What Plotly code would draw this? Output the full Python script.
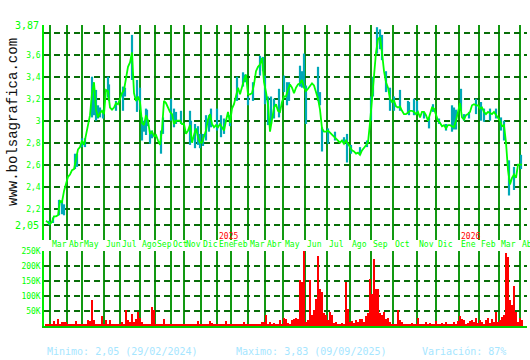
import numpy as np
import plotly.graph_objects as go

# ---------------- data ----------------
month_names = ["Feb", "Mar", "Abr", "May", "Jun", "Jul", "Ago", "Sep", "Oct", "Nov", "Dic",
               "Ene", "Feb", "Mar", "Abr", "May", "Jun", "Jul", "Ago", "Sep", "Oct", "Nov", "Dic",
               "Ene", "Feb", "Mar", "Abr"]
month_years = [2024] * 11 + [2025] * 12 + [2026] * 4
sessions_per_month = [4, 17, 15, 22, 16, 20, 15, 16, 13, 17, 16,
                      14, 17, 17, 18, 22, 22, 23, 21, 22, 24, 19, 23,
                      20, 20, 21, 2]

STEP = 2  # sessions between samples
close = [
    2.09, 2.07, 2.06, 2.08, 2.13, 2.13, 2.14, 2.27, 2.26, 2.36, 2.44, 2.49, 2.51, 2.55, 2.56, 2.66,
    2.74, 2.76, 2.82, 2.78, 2.87, 2.95, 3.05, 3.25, 3.35, 3.10, 3.03, 3.07, 3.09, 3.06, 3.28, 3.27,
    3.12, 3.10, 3.12, 3.16, 3.15, 3.20, 3.25, 3.28, 3.38, 3.49, 3.53, 3.62, 3.25, 3.18, 3.22, 3.17,
    2.98, 2.96, 3.05, 3.00, 2.88, 2.90, 2.86, 2.87, 2.82, 2.78, 2.92, 3.18, 3.16, 3.12,
    3.08, 3.06, 2.97, 3.00, 3.00, 3.00, 2.97, 2.97, 2.88, 2.91, 2.96, 2.80, 2.87, 2.93, 2.85, 2.80,
    2.80, 2.86, 2.91, 3.01, 3.06, 2.97, 2.94, 2.96, 2.94, 2.97, 2.94, 2.91, 3.00, 3.08, 2.98, 3.11,
    3.15, 3.22, 3.30, 3.24, 3.32, 3.37, 3.42, 3.24, 3.24, 3.25, 3.33, 3.45, 3.49, 3.51, 3.57, 3.35,
    3.26, 3.15, 2.90, 3.03, 3.12, 3.15, 3.09, 3.08, 3.17, 3.22, 3.22, 3.28, 3.33, 3.30,
    3.25, 3.30, 3.33, 3.34, 3.37, 3.30, 3.27, 3.29, 3.32, 3.34, 3.32, 3.25, 3.20, 3.10, 2.93, 2.90,
    2.90, 2.91, 2.89, 2.88, 2.85, 2.84, 2.81, 2.80, 2.82, 2.79, 2.82, 2.79, 2.76, 2.73, 2.72, 2.70,
    2.71, 2.69, 2.73, 2.75, 2.77, 2.80, 2.98, 3.20, 3.45, 3.62, 3.74, 3.76, 3.62, 3.45, 3.35, 3.30,
    3.20, 3.17, 3.18, 3.13, 3.12, 3.13, 3.09, 3.06, 3.06, 3.08, 3.09,
    3.09, 3.08, 3.06, 3.08, 3.03, 3.08, 3.08, 3.05, 3.00, 3.07, 3.12, 3.11, 3.06, 3.00, 2.98, 2.95,
    2.96, 2.93, 2.96, 2.96, 2.95, 2.94, 3.00, 3.09, 3.16, 3.03, 3.01, 3.05, 3.06, 3.08, 3.14, 3.15,
    3.14, 3.14, 3.11, 3.12, 3.08, 3.06, 3.08, 3.07, 3.06, 3.08, 3.05, 3.03, 3.00, 2.95, 2.96, 2.80,
    2.55, 2.42, 2.48, 2.51, 2.48, 2.60, 2.60, 2.60,
]

volume_k = [
    5, 6, 5, 4, 16, 5, 22, 5, 14, 12,
    14, 5, 4, 8, 5, 18, 5, 4, 6, 8,
    5, 21, 17, 86, 19, 8, 8, 8, 35, 6,
    19, 5, 19, 6, 5, 8, 5, 4, 14, 5,
    54, 21, 14, 40, 14, 24, 46, 28, 14, 6,
    8, 5, 6, 64, 54, 8, 5, 4, 8, 22,
    5, 4, 5, 8, 4, 5, 4, 5, 6, 6,
    6, 4, 5, 8, 4, 5, 16, 5, 8, 4,
    5, 6, 17, 10, 5, 6, 5, 8, 8, 6,
    17, 8, 6, 8, 5, 4, 6, 5, 6, 14,
    5, 6, 5, 8, 6, 5, 8, 6, 12, 14,
    38, 8, 14, 6, 10, 8, 6, 20, 8, 28,
    22, 10, 8, 20, 25, 28, 22, 154, 146, 249,
    14, 20, 152, 36, 53, 91, 234, 124, 113, 42,
    36, 20, 47, 36, 10, 14, 8, 6, 10, 8,
    146, 58, 14, 17, 10, 20, 12, 22, 25, 14,
    33, 42, 157, 108, 223, 124, 124, 42, 36, 47,
    22, 28, 14, 8, 6, 5, 53, 20, 14, 6,
    8, 5, 6, 10, 5, 6, 28, 5, 8, 6,
    14, 5, 10, 8, 6, 17, 5, 6, 10, 5,
    14, 6, 8, 6, 14, 8, 17, 33, 25, 20,
    8, 10, 17, 20, 12, 28, 10, 20, 14, 8,
    20, 28, 10, 22, 12, 47, 14, 20, 31, 36,
    245, 229, 86, 70, 132, 47, 14, 28, 20,
]

# intraday ranges (session index, low, high)
range_sessions = [3, 7, 13, 16, 18, 29, 31, 36, 39, 46, 48, 50, 52, 54, 57, 62, 63, 70, 77, 79,
                  86, 91, 94, 96, 98, 100, 101, 104, 106, 115, 117,
                  125, 128, 130, 135, 144, 145, 149, 152, 154, 157, 160, 163, 165, 171, 175, 178,
                  184, 191, 197, 199, 202, 207, 214, 217, 219, 222, 225, 228, 233, 238, 243,
                  241, 254, 256, 258, 260, 272, 274, 276, 282, 289, 298, 301, 305, 314, 321,
                  325, 327, 331, 334, 336, 340, 344, 348, 354, 362,
                  363, 368, 371, 378, 383, 387, 393, 400, 406, 408, 410, 415, 418, 423, 430,
                  435, 438, 444, 450, 455, 458, 463, 468, 475]
range_low = [2.05, 2.07, 2.14, 2.15, 2.14, 2.56, 2.58, 2.76, 2.76, 3.03, 3.05, 3.00, 3.02, 3.03, 3.02,
             3.21, 3.18, 3.09, 3.09, 3.22, 3.37, 3.08, 3.10, 2.82, 2.90, 2.87, 2.95, 2.79, 2.84,
             2.70, 2.88,
             3.00, 2.94, 2.97, 2.97, 2.78, 2.85, 2.75, 2.78, 2.75, 2.77, 2.82, 2.90, 2.94, 2.91,
             2.85, 2.88, 2.95, 3.18, 3.31, 3.35, 3.14, 3.18, 3.41, 3.45, 3.15, 2.96, 2.97, 3.02,
             3.03, 3.26, 3.18,
             3.14, 3.31, 3.30, 3.31, 2.97, 3.18, 3.14, 2.72, 2.79, 2.82, 2.79, 2.62, 2.70, 2.69,
             2.76, 3.00, 3.22, 3.61, 3.65, 3.55, 3.26, 3.09, 3.09, 3.09, 3.06,
             3.05, 3.05, 3.06, 3.02, 2.93, 3.08, 2.97, 2.91, 2.90, 2.92, 2.92, 3.09, 3.00, 3.02,
             3.06, 3.00, 2.99, 3.00, 3.02, 2.91, 2.82, 2.32, 2.37, 2.56]
range_high = [2.09, 2.12, 2.28, 2.27, 2.24, 2.70, 2.70, 2.84, 2.84, 3.40, 3.30, 3.28, 3.14, 3.12, 3.09,
              3.40, 3.33, 3.18, 3.31, 3.30, 3.78, 3.37, 3.30, 3.03, 3.00, 3.11, 3.10, 2.91, 2.91,
              2.91, 3.03,
              3.20, 3.11, 3.08, 3.09, 3.09, 3.00, 2.97, 2.95, 2.88, 2.88, 3.05, 3.05, 3.11, 3.11,
              3.05, 3.02, 3.05, 3.40, 3.44, 3.42, 3.22, 3.35, 3.59, 3.58, 3.41, 3.22, 3.22, 3.20,
              3.29, 3.41, 3.35,
              3.35, 3.50, 3.45, 3.61, 3.32, 3.49, 3.26, 2.94, 2.93, 2.90, 2.85, 2.88, 2.78, 2.76,
              2.82, 3.22, 3.40, 3.85, 3.83, 3.78, 3.45, 3.30, 3.22, 3.28, 3.18,
              3.17, 3.20, 3.18, 3.08, 3.03, 3.15, 3.02, 2.97, 3.14, 3.12, 3.10, 3.29, 3.06, 3.08,
              3.20, 3.17, 3.11, 3.11, 3.11, 3.03, 3.00, 2.64, 2.58, 2.69]

price_ticks = [2.05, 2.2, 2.4, 2.6, 2.8, 3.0, 3.2, 3.4, 3.6, 3.8, 3.87]
price_tick_labels = ["", "2,2", "2,4", "2,6", "2,8", "3", "3,2", "3,4", "3,6", "", ""]
edge_labels = {2.05: "2,05", 3.87: "3,87"}
volume_ticks = [50, 100, 150, 200, 250]
volume_tick_labels = ["50K", "100K", "150K", "200K", "250K"]
stats = [("Minimo: 2,05 (29/02/2024)", 45), ("Maximo: 3,83 (09/09/2025)", 234),
         ("Variación: 87%", 420)]
watermark = "www.bolsagrafica.com"

# ---------------- styles / layout geometry ----------------
W, H = 530, 360
ML, MR, MT, MB = 44, 3, 25, 34
PW, PH = W - ML - MR, H - MT - MB
PRICE_BOTTOM_PX = 240
VOL_TOP_PX = 251
X_RANGE = [-2, 481]


def py2paper(py):
    return (H - MB - py) / PH


def px2paper(px):
    return (px - ML) / PW


MONO = "DejaVu Sans Mono"
GREEN_TXT = "#00ff00"
GRID_V = "#129912"
GRID_H = "#086e08"

sessions = np.arange(len(close)) * STEP
month_starts = np.cumsum([0] + sessions_per_month[:-1])

seg_x, seg_y = [], []
for s, lo, hi in zip(range_sessions, range_low, range_high):
    seg_x += [s, s, None]
    seg_y += [lo, hi, None]

fig = go.Figure()
fig.add_trace(go.Scatter(x=seg_x, y=seg_y, mode="lines",
                         line=dict(color="#00a8b8", width=2.2),
                         xaxis="x", yaxis="y", showlegend=False, hoverinfo="skip"))
fig.add_trace(go.Scatter(x=sessions, y=close, mode="lines",
                         line=dict(color="#00ff00", width=1.8),
                         xaxis="x", yaxis="y", showlegend=False))
fig.add_trace(go.Bar(x=sessions, y=volume_k, width=1.0,
                     marker=dict(color="#ff0000", line=dict(width=0)),
                     xaxis="x2", yaxis="y2", showlegend=False))

xcommon = dict(range=X_RANGE, tickmode="array", tickvals=list(month_starts[1:]),
               showticklabels=False, showgrid=True, gridcolor=GRID_V, gridwidth=1.5,
               zeroline=False, ticks="")

ann = []
for i in range(1, len(month_names)):
    ann.append(dict(x=month_starts[i] - 0.5, y=py2paper(244), xref="x", yref="paper",
                    text=month_names[i], showarrow=False, xanchor="left", yanchor="middle",
                    font=dict(family=MONO, size=8, color=GREEN_TXT)))
    if month_names[i] == "Ene":
        ann.append(dict(x=month_starts[i] - 0.5, y=py2paper(236), xref="x", yref="paper",
                        text=str(month_years[i]), showarrow=False, xanchor="left",
                        yanchor="middle", font=dict(family=MONO, size=8, color="#ff0000")))
for v, t in edge_labels.items():
    ann.append(dict(x=0, y=v, xref="paper", yref="y", text=t, showarrow=False,
                    xanchor="right", yanchor="middle", xshift=-3,
                    font=dict(family=MONO, size=10, color=GREEN_TXT)))
for t, px in stats:
    ann.append(dict(x=px2paper(px), y=py2paper(352), xref="paper", yref="paper", text=t,
                    showarrow=False, xanchor="left", yanchor="middle",
                    font=dict(family=MONO, size=10, color="#a6e6ff")))
ann.append(dict(x=px2paper(13), y=py2paper(122), xref="paper", yref="paper", text=watermark,
                showarrow=False, textangle=-90, xanchor="center", yanchor="middle",
                font=dict(family="Liberation Mono", size=14, color="#111111")))

fig.update_layout(
    width=W, height=H,
    margin=dict(l=ML, r=MR, t=MT, b=MB, pad=0),
    paper_bgcolor="white", plot_bgcolor="white",
    showlegend=False, bargap=0,
    xaxis=dict(anchor="y", **xcommon),
    xaxis2=dict(anchor="y2", matches="x", showline=True, linecolor="#00cc00", linewidth=2,
                **xcommon),
    yaxis=dict(domain=[py2paper(PRICE_BOTTOM_PX), 1.0],
               range=[3.87 - (PRICE_BOTTOM_PX - MT) / 110.0, 3.87],
               tickmode="array", tickvals=price_ticks, ticktext=price_tick_labels,
               showgrid=True, gridcolor=GRID_H, gridwidth=1.5, griddash="6px,4px",
               zeroline=False, showline=True, linecolor="#00ee00", linewidth=1.5,
               ticks="", tickfont=dict(family=MONO, size=8, color=GREEN_TXT)),
    yaxis2=dict(domain=[0.0, py2paper(VOL_TOP_PX)], range=[0, 250],
                tickmode="array", tickvals=volume_ticks, ticktext=volume_tick_labels,
                showgrid=True, gridcolor=GRID_H, gridwidth=1.5, griddash="6px,4px",
                zeroline=False, showline=True, linecolor="#00ee00", linewidth=1.5,
                ticks="", tickfont=dict(family=MONO, size=8, color=GREEN_TXT)),
    annotations=ann,
)

fig.write_html("out.html")
